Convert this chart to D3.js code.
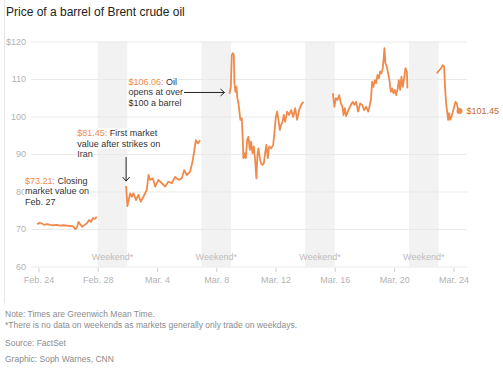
<!DOCTYPE html>
<html lang="en">
<head>
<meta charset="utf-8">
<title>Price of a barrel of Brent crude oil</title>
<script src="https://cdn.jsdelivr.net/npm/d3@7"></script>
<style>
    body { margin: 0; background: #fff; }
    svg { display: block; font-family: "Liberation Sans", Arial, sans-serif; }
</style>
</head>
<body>
<script>

var yTicks = [60, 70, 80, 90, 100, 110, 120];
var xTicks = ["02-24", "02-28", "03-04", "03-08", "03-12", "03-16", "03-20", "03-24"];
var weekends = [["02-28", "03-02"], ["03-07", "03-09"], ["03-14", "03-16"], ["03-21", "03-23"]];

// GMT timestamps (2026) and prices
var times = [
    "02-23 22:00", "02-24 01:00", "02-24 05:30", "02-24 09:00", "02-24 14:00", "02-24 19:00", "02-25 00:00",
    "02-25 06:00", "02-25 11:00", "02-25 16:30", "02-25 22:00", "02-26 03:20", "02-26 08:10", "02-26 11:30",
    "02-26 14:10", "02-26 16:50", "02-26 19:30", "02-26 22:50", "02-27 02:50", "02-27 06:55", "02-27 10:05",
    "02-27 13:20", "02-27 16:05", "02-27 19:00", "02-27 22:30",

    "03-01 22:00", "03-02 00:10", "03-02 04:30", "03-02 07:15", "03-02 09:50", "03-02 14:10", "03-02 17:55",
    "03-02 21:50", "03-03 02:00", "03-03 07:30", "03-03 10:10", "03-03 12:50", "03-03 17:15", "03-03 21:00",
    "03-04 02:20", "03-04 07:50", "03-04 13:10", "03-04 18:30", "03-05 00:00", "03-05 05:25", "03-05 10:40",
    "03-05 16:10", "03-05 20:00", "03-06 00:20", "03-06 05:40", "03-06 09:25", "03-06 12:10", "03-06 14:55",
    "03-06 18:10", "03-06 21:55",

    "03-08 21:20", "03-08 23:35", "03-09 01:10", "03-09 02:50", "03-09 04:25", "03-09 05:25", "03-09 07:00",
    "03-09 08:40", "03-09 10:15", "03-09 11:50", "03-09 13:30", "03-09 15:05", "03-09 17:20", "03-09 19:00",
    "03-09 20:00", "03-09 22:15", "03-09 23:50", "03-10 02:00", "03-10 04:05", "03-10 06:20", "03-10 08:25",
    "03-10 10:35", "03-10 12:50", "03-10 14:55", "03-10 17:00", "03-10 18:40", "03-10 20:15", "03-10 22:30",
    "03-11 00:35", "03-11 02:40", "03-11 05:00", "03-11 07:05", "03-11 09:10", "03-11 11:30", "03-11 13:35",
    "03-11 16:50", "03-11 20:05", "03-11 22:10", "03-12 00:25", "03-12 02:35", "03-12 04:40", "03-12 06:55",
    "03-12 09:00", "03-12 11:05", "03-12 13:25", "03-12 15:30", "03-12 18:45", "03-12 22:00", "03-13 01:15",
    "03-13 04:30", "03-13 07:45", "03-13 10:55", "03-13 14:10", "03-13 17:25", "03-13 21:10",

    "03-15 20:40", "03-15 23:20", "03-16 01:35", "03-16 04:10", "03-16 07:00", "03-16 09:45", "03-16 12:20",
    "03-16 13:55", "03-16 16:10", "03-16 18:15", "03-16 22:00", "03-17 01:55", "03-17 05:10", "03-17 07:45",
    "03-17 10:30", "03-17 13:45", "03-17 17:00", "03-17 20:15", "03-17 23:30", "03-18 02:45", "03-18 06:00",
    "03-18 08:00", "03-18 10:20", "03-18 12:25", "03-18 14:30", "03-18 16:50", "03-18 18:55", "03-18 21:00",
    "03-18 23:15", "03-19 01:25", "03-19 03:25", "03-19 05:40", "03-19 08:20", "03-19 09:55", "03-19 12:10",
    "03-19 14:20", "03-19 16:25", "03-19 18:40", "03-19 20:50", "03-19 22:55", "03-20 01:10", "03-20 03:15",
    "03-20 05:25", "03-20 07:35", "03-20 09:45", "03-20 11:50", "03-20 14:05", "03-20 16:10", "03-20 18:20",
    "03-20 20:35", "03-20 21:35",

    "03-22 21:10", "03-22 23:20", "03-23 01:25", "03-23 04:10", "03-23 06:50", "03-23 09:00", "03-23 10:40",
    "03-23 12:15", "03-23 13:50", "03-23 15:30", "03-23 17:05", "03-23 18:40", "03-23 20:50", "03-23 23:05",
    "03-24 01:10", "03-24 03:20", "03-24 05:35", "03-24 07:40", "03-24 09:50"
];
var prices = [
    71.3, 71.6, 71.5, 71.1, 71.3, 71.1, 71.0,
    71.1, 70.9, 71.0, 70.9, 70.8, 70.7, 70.0,
    70.3, 71.9, 71.3, 70.6, 71.1, 71.6, 72.4,
    71.9, 72.9, 72.7, 73.21,

    81.45, 76.1, 79.5, 78.6, 79.5, 77.7, 79.1,
    77.3, 78.6, 80.4, 84.4, 83.1, 83.5, 81.3,
    83.1, 82.2, 81.3, 82.6, 82.2, 83.9, 83.1,
    83.5, 85.7, 84.4, 85.3, 87.9, 90.6, 93.7,
    92.8, 93.7,

    106.06, 107.9, 116.4, 116.9, 116.4, 108.9, 106.6,
    107.9, 104.9, 103.5, 101.3, 99.1, 99.5, 93.7,
    88.9, 90.2, 88.9, 93.7, 94.6, 91.1, 93.3,
    90.2, 92.0, 88.4, 83.5, 89.7, 91.5, 88.9,
    87.5, 87.1, 87.5, 90.2, 92.4, 88.9, 92.0,
    91.5, 92.4, 95.5, 99.9, 101.3, 99.1, 96.4,
    97.7, 98.6, 100.4, 98.6, 101.3, 100.4, 101.7,
    99.9, 102.2, 99.1, 101.7, 103.1, 103.9,

    106.2, 102.6, 104.9, 104.4, 105.7, 103.5, 102.6,
    100.4, 102.2, 100.1, 101.7, 103.1, 103.9, 103.1,
    103.9, 101.3, 103.5, 103.1, 101.7, 102.6, 101.3,
    102.6, 104.4, 109.3, 107.9, 109.7, 108.9, 111.1,
    110.2, 112.0, 111.5, 112.9, 118.2, 114.2, 113.3,
    111.5, 109.7, 106.6, 107.5, 106.2, 107.1, 105.7,
    107.1, 109.7, 107.1, 110.6, 107.9, 110.2, 112.9,
    112.0, 107.5,

    111.5, 112.0, 112.4, 112.9, 113.7, 113.3, 107.1,
    103.5, 101.3, 99.1, 100.9, 99.1, 99.9, 101.3,
    102.6, 103.9, 103.5, 101.7, 101.45
];

var notes = [
    {at: "02-27 22:30", value: "$73.21:", lines: [" Closing", "market value on", "Feb. 27"]},
    {at: "03-01 22:00", value: "$81.45:", lines: [" First market", "value after strikes on", "Iran"]},
    {at: "03-08 21:20", value: "$106.06:", lines: [" Oil", "opens at over", "$100 a barrel"]}
];
var footer = [
    "Note: Times are Greenwich Mean Time.",
    "*There is no data on weekends as markets generally only trade on weekdays.",
    "",
    "Source: FactSet",
    "Graphic: Soph Warnes, CNN"
];

var w = 503;
var h = 373;
var orange = "#f08a4b";

var parse = d3.utcParse("%Y-%m-%d %H:%M");
function t(s) { return parse("2026-" + (s.length == 5 ? s + " 00:00" : s)); }

var data = times.map(function(s, i) { return {t: t(s), p: prices[i]}; });

// split into trading sessions at the weekend gaps
var segments = [[]];
data.forEach(function(d, i) {
    if (i > 0 && d.t - data[i - 1].t > 12 * 3600e3) segments.push([]);
    segments[segments.length - 1].push(d);
});

var x = d3.scaleUtc()
    .domain([t("02-23 12:00"), t("03-24 22:00")])
    .range([31, 467]);
var y = d3.scaleLinear()
    .domain([60, 120])
    .range([266.5, 41.5]);

var svg = d3.select("body")
    .append("svg")
    .attr("width", w)
    .attr("height", h);

svg.append("line")
    .attr("x1", 4.5).attr("x2", 4.5)
    .attr("y1", 0).attr("y2", 303)
    .attr("stroke", "#e6e6e6");

svg.append("text")
    .attr("x", 6)
    .attr("y", 16)
    .attr("font-size", 12)
    .attr("fill", "#222")
    .text("Price of a barrel of Brent crude oil");

var wk = svg.append("g");
wk.selectAll("rect")
    .data(weekends)
    .enter()
    .append("rect")
    .attr("x", function(d) { return x(t(d[0])); })
    .attr("width", function(d) { return x(t(d[1])) - x(t(d[0])); })
    .attr("y", y(120))
    .attr("height", y(60) - y(120))
    .attr("fill", "#f2f2f2");
wk.selectAll("text")
    .data(weekends)
    .enter()
    .append("text")
    .attr("x", function(d) { return (x(t(d[0])) + x(t(d[1]))) / 2; })
    .attr("y", y(60) - 6.5)
    .attr("text-anchor", "middle")
    .attr("font-size", 9)
    .attr("fill", "#bdbdbd")
    .text("Weekend*");

var yAxis = svg.append("g")
    .attr("transform", "translate(31,0)")
    .call(d3.axisLeft(y)
        .tickValues(yTicks)
        .tickSize(-436)
        .tickPadding(5)
        .tickFormat(function(d) { return d == 120 ? "$120" : d; }));
yAxis.select(".domain").remove();
yAxis.selectAll("line").attr("stroke", "#e9e9e9");
yAxis.selectAll("text")
    .attr("fill", "#b3b3b3")
    .attr("font-size", 9)
    .attr("font-family", null);

var xAxis = svg.append("g")
    .attr("transform", "translate(0,268)")
    .call(d3.axisBottom(x)
        .tickValues(xTicks.map(t))
        .tickSize(4)
        .tickPadding(5)
        .tickFormat(d3.utcFormat("%b. %-d")));
xAxis.select(".domain").remove();
xAxis.selectAll("line").attr("stroke", "#cfcfcf");
xAxis.selectAll("text")
    .attr("fill", "#b3b3b3")
    .attr("font-size", 9)
    .attr("font-family", null);

var line = d3.line()
    .x(function(d) { return x(d.t); })
    .y(function(d) { return y(d.p); });

svg.append("g")
    .selectAll("path")
    .data(segments)
    .enter()
    .append("path")
    .attr("d", line)
    .attr("fill", "none")
    .attr("stroke", orange)
    .attr("stroke-width", 1.8)
    .attr("stroke-linejoin", "round");

var last = data[data.length - 1];
svg.append("circle")
    .attr("cx", x(last.t))
    .attr("cy", y(last.p))
    .attr("r", 3)
    .attr("fill", orange);
svg.append("text")
    .attr("x", x(last.t) + 7)
    .attr("y", y(last.p) + 3.2)
    .attr("font-size", 9)
    .attr("fill", "#c9682f")
    .text("$" + d3.format(".2f")(last.p));

// annotations, offsets relative to the point they describe
var offsets = [
    {dx: -71.8, dy: -33},
    {dx: -48.8, dy: -50},
    {dx: -101, dy: -9}
];
var ann = svg.append("g").attr("font-size", 9);
notes.forEach(function(n, i) {
    var px = x(t(n.at)), py = y(prices[times.indexOf(n.at)]);
    var o = offsets[i];
    var g = ann.append("g");
    var ends = [];
    n.lines.forEach(function(l, j) {
        var tx = g.append("text")
            .attr("x", px + o.dx)
            .attr("y", py + o.dy + j * 10.5)
            .attr("fill", "#333");
        if (j == 0) tx.append("tspan").attr("fill", orange).text(n.value);
        tx.append("tspan").text(l);
        var b = tx.node().getBBox();
        ends.push(b.x + b.width);
        g.insert("rect", "text")
            .attr("x", b.x - 1)
            .attr("y", b.y)
            .attr("width", b.width + 2)
            .attr("height", b.height)
            .attr("fill", "#fff");
    });
    var path;
    if (i == 1) {
        path = "M" + px + "," + (py - 29) + "V" + (py - 5) +
            "M" + (px - 3.5) + "," + (py - 9) + "L" + px + "," + (py - 5) + "L" + (px + 3.5) + "," + (py - 9);
    } else if (i == 2) {
        var ay = py - 1.3;
        path = "M" + (ends[1] + 1) + "," + ay + "H" + (px - 5) +
            "M" + (px - 9) + "," + (ay - 3.5) + "L" + (px - 5) + "," + ay + "L" + (px - 9) + "," + (ay + 3.5);
    }
    if (path) {
        g.append("path")
            .attr("d", path)
            .attr("fill", "none")
            .attr("stroke", "#222")
            .attr("stroke-width", 1);
    }
});

svg.append("g")
    .selectAll("text")
    .data(footer)
    .enter()
    .append("text")
    .attr("x", 5)
    .attr("y", function(d, i) { return [316.5, 328, 0, 346, 362][i]; })
    .attr("font-size", 8.5)
    .attr("fill", "#8c8c8c")
    .text(function(d) { return d; });

</script>
</body>
</html>
